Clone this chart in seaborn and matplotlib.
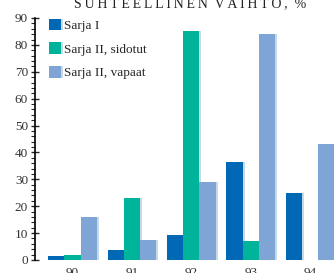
import pandas as pd
import seaborn as sns
import matplotlib.pyplot as plt
import matplotlib.patheffects as pe
from matplotlib.ticker import MultipleLocator

# Data
years = ['90', '91', '92', '93', '94']
sarja_1 = [1.6, 3.7, 9.3, 36.4, 25.0]
sarja_2_sidotut = [1.9, 23.2, 85.1, 7.1, 0.0]
sarja_2_vapaat = [16.0, 7.4, 29.0, 84.0, 43.0]
series = ['Sarja I', 'Sarja II, sidotut', 'Sarja II, vapaat']
colors = ['#0068b4', '#00b49b', '#7fa4d6']

df = pd.DataFrame({
    'vuosi': years * 3,
    'arvo': sarja_1 + sarja_2_sidotut + sarja_2_vapaat,
    'sarja': [s for s in series for _ in years],
})

sns.set_style('white')
plt.rcParams['font.family'] = ['Liberation Serif', 'DejaVu Serif']

fig = plt.figure(figsize=(3.34, 2.73), dpi=100)
ax = fig.add_axes([35 / 334, 13 / 273, 1 - 35 / 334, 242 / 273])

sns.barplot(data=df, x='vuosi', y='arvo', hue='sarja', palette=colors,
            saturation=1, width=0.82, linewidth=0, ax=ax)

# light shadow on the right edge of every bar
for bar in ax.patches:
    bar.set_path_effects([pe.SimplePatchShadow(offset=(1.4, 0), shadow_rgbFace='#c6dae6', alpha=1),
                          pe.Normal()])

ax.set_ylim(0, 90)
ax.set_xlim(-0.63, 4.4)
ax.yaxis.set_major_locator(MultipleLocator(10))
ax.yaxis.set_minor_locator(MultipleLocator(2))
ax.tick_params(axis='y', which='major', direction='inout', length=6, width=1, labelsize=9.5,
               pad=2, left=True, labelcolor='#333333')
ax.tick_params(axis='y', which='minor', direction='out', length=3, width=0.8, left=True)
ax.tick_params(axis='x', length=0, labelsize=9.5, pad=5, labelcolor='#333333')
ax.set_xlabel('')
ax.set_ylabel('')
for side in ['top', 'right', 'bottom']:
    ax.spines[side].set_visible(False)
ax.spines['left'].set_color('black')
ax.spines['left'].set_linewidth(1.2)

leg = ax.legend(loc='upper left', bbox_to_anchor=(0.02, 1.03), frameon=False,
                fontsize=9.5, handlelength=0.95, handleheight=0.95,
                handletextpad=0.2, labelspacing=0.8, borderaxespad=0.2)

title = '\u2009'.join('SUHTEELLINEN') + '  ' + '\u2009'.join('VAIHTO,') + '  %'
fig.text(0.57, 0.975, title, ha='center', va='baseline', fontsize=10, color='#222222')

fig.savefig('out.png', dpi=100)
